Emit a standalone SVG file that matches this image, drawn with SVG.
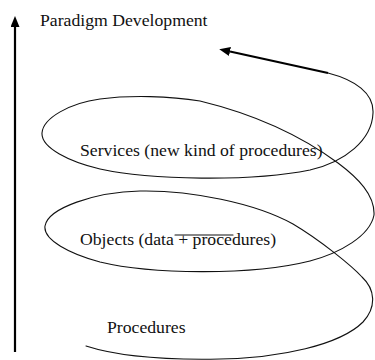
<svg xmlns="http://www.w3.org/2000/svg" width="375" height="360" viewBox="0 0 375 360">
  <style>
    .lbl { font-family: "Liberation Serif", "Times New Roman", "DejaVu Serif", serif; font-size: 17.7px; fill: #111; }
    .thin { fill: none; stroke: #111; stroke-width: 1.1; stroke-linecap: round; stroke-linejoin: round; }
    .thick { fill: none; stroke: #000; stroke-width: 2.2; }
  </style>
  <defs>
    <marker id="head" viewBox="0 0 11 9" refX="0" refY="4.5" markerWidth="11" markerHeight="9" markerUnits="userSpaceOnUse" orient="auto">
      <path d="M0,0 L11,4.5 L0,9 z" fill="#000"/>
    </marker>
  </defs>
  <rect width="375" height="360" fill="#fff"/>

  <!-- vertical axis -->
  <g id="axis">
    <line class="thick" x1="15" y1="352" x2="15" y2="27" marker-end="url(#head)"/>
    <text class="lbl" x="40" y="26" font-family="Liberation Serif, serif">Paradigm Development</text>
  </g>

  <!-- helix rising through the three levels -->
  <g id="connectors">
    <path id="helix" class="thin" d="M86,346 C120,357 170,360 220,359 C280,358 340,345 363,322
      C377,307 375,289 362,277 C352,266 320,240 293,224 C255,203 190,190 140,191
      C95,192 48,208 45,226
      C43,240 70,254 100,262 C150,274 250,276 310,261 C340,253 370,236 374,215
      C375,195 358,178 338,163 C315,146 270,118 200,101 C170,96 130,95 100,99
      C70,103 43,118 42,133
      C41,148 70,162 100,169 C150,180 250,182 310,170 C345,162 372,140 373,113
      C374,93 355,80 328,73"/>
    <line class="thick" x1="328" y1="73" x2="230" y2="51.5" marker-end="url(#head)"/>
    <line class="thin" x1="175" y1="235" x2="233" y2="235"/>
  </g>

  <g id="level-services">
    <text class="lbl" x="80" y="156" font-family="Liberation Serif, serif">Services (new kind of procedures)</text>
  </g>
  <g id="level-objects">
    <text class="lbl" x="80" y="245" font-family="Liberation Serif, serif">Objects (data + procedures)</text>
  </g>
  <g id="level-procedures">
    <text class="lbl" x="107" y="333" font-family="Liberation Serif, serif">Procedures</text>
  </g>
</svg>
